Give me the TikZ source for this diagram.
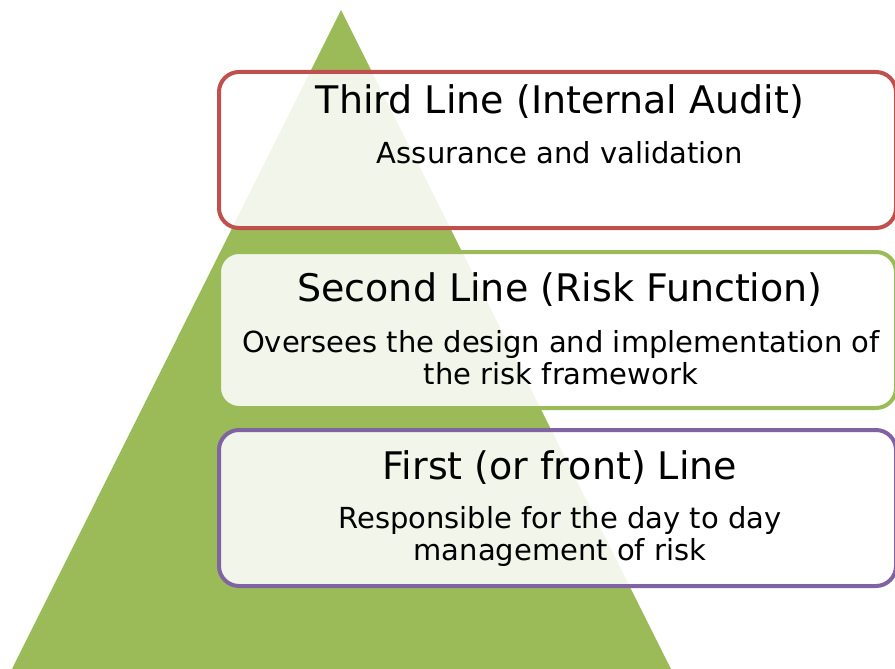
\documentclass[tikz,border=0pt]{standalone}
\usepackage{fontspec}
\setmainfont{DejaVu Sans}
\usetikzlibrary{positioning}
\definecolor{pyramid}{HTML}{9BBB59}
\definecolor{thirdcol}{HTML}{C0504D}
\definecolor{secondcol}{HTML}{9BBB59}
\definecolor{firstcol}{HTML}{8064A2}
\newcommand{\BOXW}{677}
\newcommand{\BOXH}{156}
\newcommand{\BOXX}{557.5}

\begin{document}
\begin{tikzpicture}[x=1pt,y=-1pt]
\tikzstyle{linebox}=[draw, line width=4pt, rounded corners=20pt, fill=white, fill opacity=0.88, minimum width=\BOXW pt, minimum height=\BOXH pt, inner sep=0pt]
\tikzstyle{heading}=[font=\fontsize{38}{44}\selectfont, inner sep=0pt]
\tikzstyle{detail}=[font=\fontsize{29}{32}\selectfont, align=center, inner sep=0pt]
\useasboundingbox (0,0) rectangle (895,669);
\clip (0,0) rectangle (895,669);

% Pyramid
	\fill[pyramid] (341,10) -- (12,669) -- (671,669) -- cycle;

% Boxes
	\node[linebox, draw=thirdcol] (third) at (\BOXX,150) {};
	\node[linebox, draw=secondcol] (second) at (\BOXX,330) {};
	\node[linebox, draw=firstcol] (first) at (\BOXX,508) {};

% Texts
	\node[heading] (thirdhead) at (560,102) {Third Line (Internal Audit)};
	\node[detail] (thirdtext) at (560,153) {Assurance and validation};

	\node[heading] (secondhead) at (560,290) {Second Line (Risk Function)};
	\node[detail] (secondtext) at (561,358) {Oversees the design and implementation of\\the risk framework};

	\node[heading] (firsthead) at (560,468) {First (or front) Line};
	\node[detail] (firsttext) at (560,536) {Responsible for the day to day\\management of risk};

\end{tikzpicture}
\end{document}
